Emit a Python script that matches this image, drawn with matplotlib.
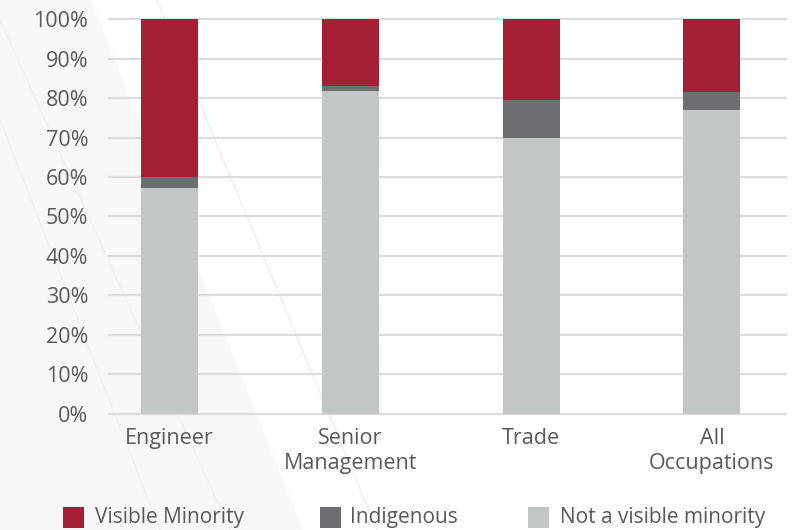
import matplotlib
matplotlib.use("Agg")
import matplotlib.pyplot as plt
from matplotlib.patches import Polygon, Rectangle
from matplotlib.lines import Line2D
import numpy as np

categories = ["Engineer", "Senior\nManagement", "Trade", "All\nOccupations"]
series_names = ["Visible Minority", "Indigenous", "Not a visible minority"]
not_visible = [57.3, 81.8, 70.0, 77.0]
indigenous = [2.8, 1.3, 9.6, 4.6]
visible_minority = [39.9, 16.9, 20.4, 18.4]
yticks = [0, 10, 20, 30, 40, 50, 60, 70, 80, 90, 100]
ytick_labels = [f"{v}%" for v in yticks]

colors = {"Visible Minority": "#a51f35", "Indigenous": "#6d6e71", "Not a visible minority": "#c3c6c6"}
text_color = "#595959"
font = "Open Sans"
fs = 15.5

W, H = 802, 530
fig = plt.figure(figsize=(W / 100, H / 100), dpi=100)
fig.patch.set_facecolor("white")

def fx(x):
    return x / W

def fy(y):
    return 1 - y / H

# decorative background
fig.add_artist(Polygon([(fx(0), fy(0)), (fx(91), fy(0)), (fx(303), fy(530)), (fx(0), fy(530))],
                       closed=True, transform=fig.transFigure, facecolor="#f8f8f8", edgecolor="none", zorder=-3))
for (x0, y0, x1, y1, c) in [(157, 0, 377, 530, "#ebebeb"), (0, 120, 160, 530, "#efefef"), (0, 20, 230, 530, "#f1f1f1")]:
    fig.add_artist(Line2D([fx(x0), fx(x1)], [fy(y0), fy(y1)], transform=fig.transFigure,
                          color=c, lw=0.8, zorder=-2))

ax = fig.add_axes([fx(109), fy(413.7), fx(786) - fx(109), fy(19.3) - fy(413.7)])
ax.set_facecolor("none")
x = np.arange(len(categories))
bw = 0.315
ax.bar(x, not_visible, bw, color=colors["Not a visible minority"], zorder=3)
ax.bar(x, indigenous, bw, bottom=not_visible, color=colors["Indigenous"], zorder=3)
bottom2 = np.array(not_visible) + np.array(indigenous)
ax.bar(x, visible_minority, bw, bottom=bottom2, color=colors["Visible Minority"], zorder=3)

ax.set_xlim(-0.335, 3.41)
ax.set_ylim(0, 100)
ax.set_yticks(yticks)
ax.set_yticklabels(ytick_labels)
ax.set_xticks(x)
ax.set_xticklabels(categories, linespacing=1.3)
for s in ax.spines.values():
    s.set_visible(False)
ax.tick_params(axis="both", length=0, labelsize=fs, labelcolor=text_color)
ax.tick_params(axis="y", pad=15)
ax.tick_params(axis="x", pad=10)
for lab in ax.get_xticklabels() + ax.get_yticklabels():
    lab.set_fontfamily(font)
for v in yticks:
    ax.axhline(v, color="#dcdcdc", lw=1.6, zorder=1, clip_on=False)

# legend
legend_pos = [(63, 95), (320, 350), (528, 560)]
for name, (sx, tx) in zip(series_names, legend_pos):
    fig.add_artist(Rectangle((fx(sx), fy(528)), fx(21), fy(507) - fy(528), transform=fig.transFigure,
                             facecolor=colors[name], edgecolor="none"))
    fig.text(fx(tx), fy(523), name, fontsize=fs - 0.5, color=text_color, family=font, va="baseline", ha="left")

fig.savefig("out.png", dpi=100)
